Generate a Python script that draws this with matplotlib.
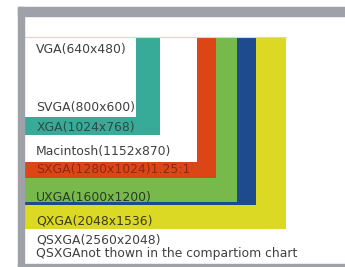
import matplotlib
matplotlib.use("Agg")
import matplotlib.pyplot as plt
from matplotlib.patches import Rectangle

# Drawn box extents (in resolution units), largest first
box_names = ["QXGA", "WUXGA", "UXGA", "SXGA", "Macintosh", "XGA", "SVGA"]
box_w = [2048, 1815, 1667, 1500, 1354, 1064, 876]
box_h = [1536, 1344, 1320, 1128, 1000, 784, 640]
box_colors = ["#dcd924", "#1e4a8e", "#77b94a", "#dc4616", "#ffffff", "#38ab98", "#ffffff"]

labels = ["VGA(640x480)", "SVGA(800x600)", "XGA(1024x768)", "Macintosh(1152x870)",
          "SXGA(1280x1024)1.25:1", "UXGA(1600x1200)", "QXGA(2048x1536)",
          "QSXGA(2560x2048)", "QSXGAnot thown in the compartiom chart"]
label_y = [96, 560, 720, 912, 1056, 1288, 1472, 1624, 1736]
label_colors = ["#404040", "#404040", "#2a4a44", "#404040", "#8a2a10",
                "#2a3a2a", "#3a3a20", "#404040", "#404040"]

W, H = 345, 267
fig = plt.figure(figsize=(W / 100, H / 100), dpi=100)
ax = fig.add_axes([0, 0, 1, 1])
sx, sy = 0.1278, 0.125
x0, y0 = 24, 37
ax.set_xlim(-x0 / sx, (W - x0) / sx)
ax.set_ylim((H - y0) / sy, -y0 / sy)
ax.axis("off")

# gray frame (figure pixel coords)
gray = "#9ea2a8"
def figrect(px, py, pw, ph):
    fig.patches.append(Rectangle((px / W, 1 - (py + ph) / H), pw / W, ph / H,
                                 transform=fig.transFigure, color=gray, zorder=0))
figrect(18, 7, W - 18, 9)
figrect(18, 7, 6, H - 7)
figrect(18, 264, W - 18, 3)

for w, h, c in zip(box_w, box_h, box_colors):
    ax.add_patch(Rectangle((0, 0), w, h, facecolor=c, edgecolor="none", zorder=2))

ax.plot([0, box_w[0]], [0, 0], color="#e8d0c8", lw=0.8, zorder=3)

for t, y, c in zip(labels, label_y, label_colors):
    ax.text(95, y, t, fontsize=8.9, color=c, va="center", ha="left",
            family="DejaVu Sans", zorder=4)

fig.savefig("out.png", dpi=100)
